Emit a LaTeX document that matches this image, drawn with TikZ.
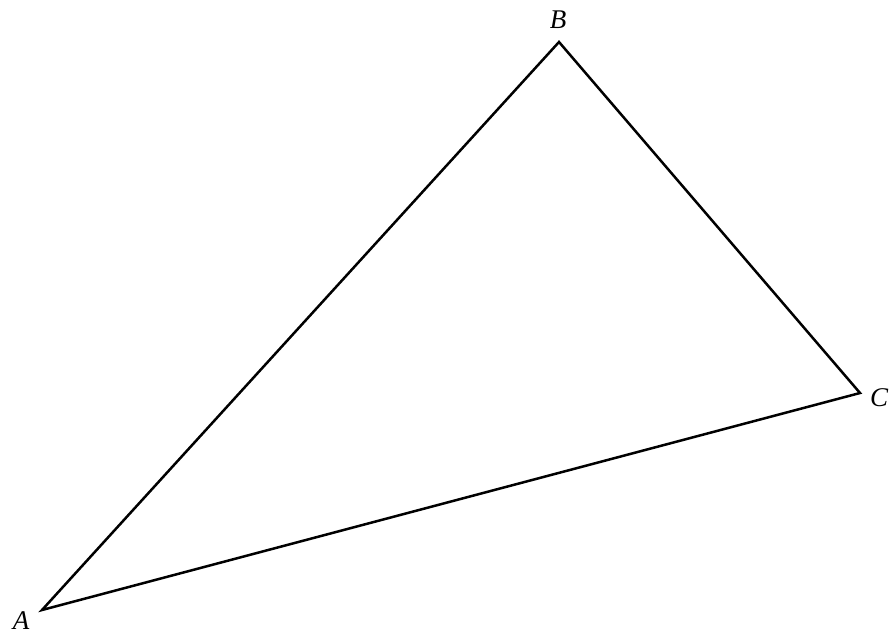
\documentclass[tikz,border=0pt]{standalone}
\usepackage{fontspec}
\setmainfont{Liberation Serif}
\begin{document}
\begin{tikzpicture}[x=1pt,y=-1pt,
  side/.style={line width=2.5pt,line join=miter},
  vlabel/.style={inner sep=0pt,font=\fontsize{27}{31}\selectfont\itshape}]
\useasboundingbox (0,0) rectangle (890,637);
\coordinate (A) at (42,610);
\coordinate (B) at (559,42);
\coordinate (C) at (860,393);
\draw[side] (A) -- (B) -- (C) -- cycle;
\node[vlabel] (la) at (21,621) {A};
\node[vlabel] (lb) at (558,20) {B};
\node[vlabel] (lc) at (879,398) {C};
\end{tikzpicture}
\end{document}
